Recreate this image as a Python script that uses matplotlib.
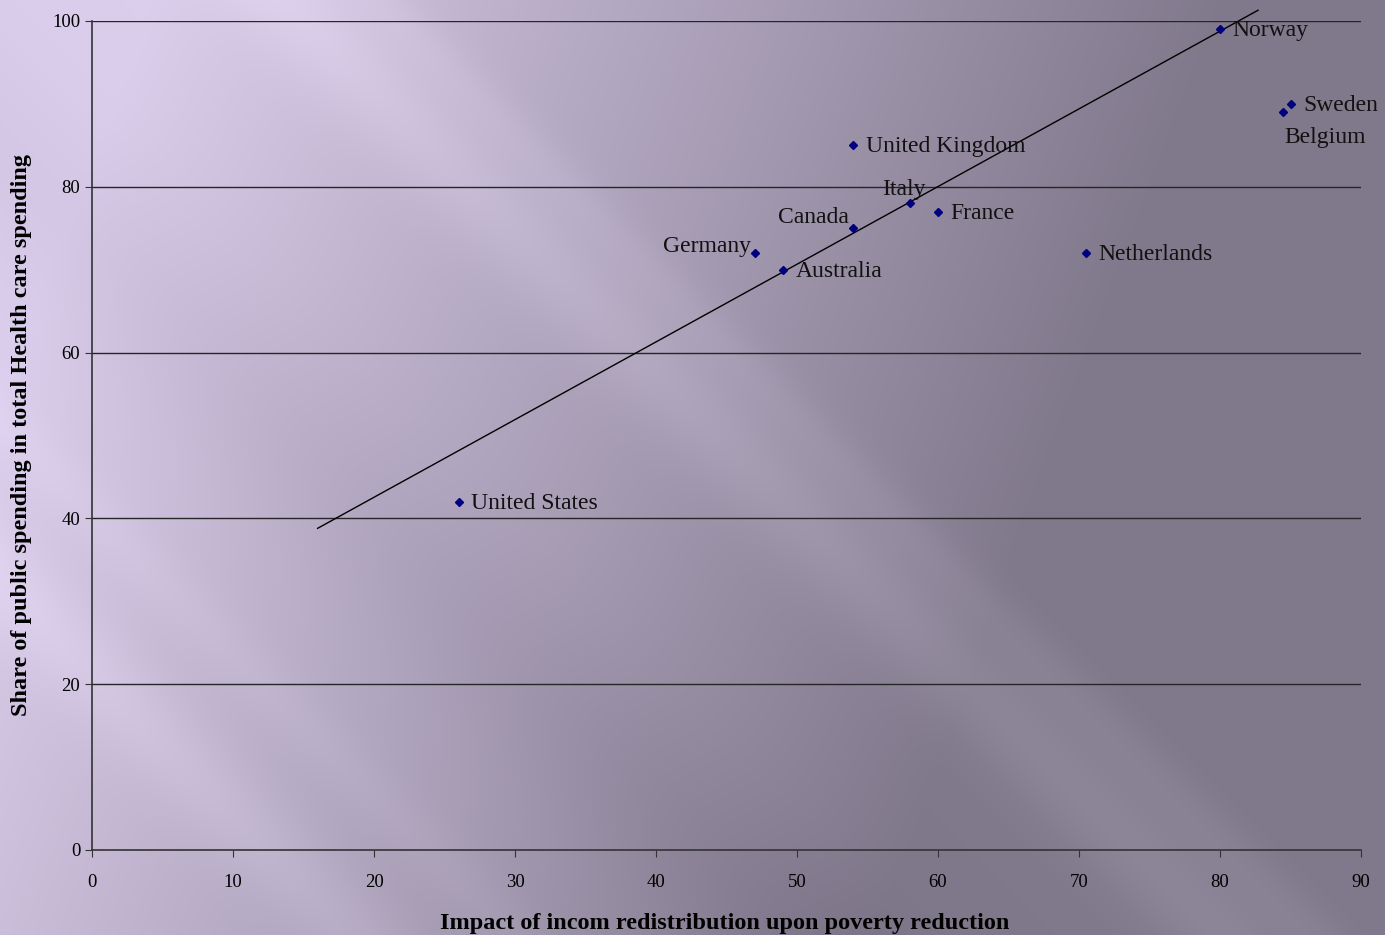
"""
Public health spending vs. redistribution impact, scatter with hand-drawn trend line.
"""
import numpy as np
import matplotlib
matplotlib.use("Agg")
import matplotlib.pyplot as plt

# data
countries = ["United States", "Germany", "Australia", "Canada", "United Kingdom",
             "Italy", "France", "Netherlands", "Norway", "Sweden", "Belgium"]
redistribution = [26, 47, 49, 54, 54, 58, 60, 70.5, 80, 85, 84.5]
public_share = [42, 72, 70, 75, 85, 78, 77, 72, 99, 90, 89]

# trend line as drawn on the slide (two end points)
trend_x = [16, 82.7]
trend_y = [38.8, 101.3]

x_ticks = [0, 10, 20, 30, 40, 50, 60, 70, 80, 90]
y_ticks = [0, 20, 40, 60, 80, 100]

# label placement (offset in points, horizontal alignment)
label_style = {
    "United States": ((9, -1), "left"),
    "Germany": ((-3, 5), "right"),
    "Australia": ((9, -1), "left"),
    "Canada": ((-3, 8), "right"),
    "United Kingdom": ((9, -1), "left"),
    "Italy": ((-4, 10), "center"),
    "France": ((9, -1), "left"),
    "Netherlands": ((9, -1), "left"),
    "Norway": ((9, -1), "left"),
    "Sweden": ((9, -1), "left"),
    "Belgium": ((30, -18), "center"),
}

W, H = 1385, 935
fig = plt.figure(figsize=(W / 100, H / 100), dpi=100)

# slide background: lavender to grey-purple with diagonal light streaks
yy, xx = np.mgrid[0:H, 0:W].astype(float)
t = np.clip((xx + 0.38 * yy - 150) / 1080, 0, 1)
light = np.array([219, 206, 236]) / 255
dark = np.array([128, 120, 139]) / 255
img = light[None, None, :] * (1 - t[..., None]) + dark[None, None, :] * t[..., None]
d = xx - yy
streak = (0.05 * np.exp(-((d - 290) / 70) ** 2)
          + 0.025 * np.exp(-((d - 380) / 35) ** 2)
          + 0.04 * np.exp(-((d + 580) / 60) ** 2)
          + 0.02 * np.exp(-((d + 420) / 40) ** 2)
          - 0.025 * np.exp(-((d + 150) / 120) ** 2))
img = np.clip(img + streak[..., None], 0, 1)
bg = fig.add_axes([0, 0, 1, 1])
bg.imshow(img, aspect="auto", extent=[0, 1, 0, 1], origin="upper")
bg.axis("off")

ax = fig.add_axes([92 / W, 1 - 850 / H, (1361 - 92) / W, (850 - 21) / H])
ax.patch.set_alpha(0)
ax.set_xlim(0, 90)
ax.set_ylim(0, 100)
ax.set_xticks(x_ticks)
ax.set_yticks(y_ticks)
ax.spines["top"].set_visible(False)
ax.spines["right"].set_visible(False)
for s in ("left", "bottom"):
    ax.spines[s].set_color("#333333")
    ax.spines[s].set_linewidth(1.2)
for yv in y_ticks[1:]:
    ax.axhline(yv, color="#262626", lw=1.0, zorder=1)

serif = ["Liberation Serif", "DejaVu Serif"]
ax.tick_params(direction="out", length=5, color="#333333", labelsize=13.5)
ax.tick_params(axis="x", pad=12)
for lab in ax.get_xticklabels() + ax.get_yticklabels():
    lab.set_family(serif)

ax.plot(trend_x, trend_y, color="black", lw=1.0, clip_on=False, zorder=2)
ax.plot(redistribution, public_share, linestyle="none", marker="D", ms=4.5,
        color="#000080", zorder=3)

for name, xv, yv in zip(countries, redistribution, public_share):
    off, ha = label_style[name]
    ax.annotate(name, (xv, yv), xytext=off, textcoords="offset points",
                ha=ha, va="center", fontsize=17, family=serif, color="#111111",
                annotation_clip=False)

ax.set_xlabel("Impact of incom redistribution upon poverty reduction",
              fontsize=17.5, fontweight="bold", family=serif)
ax.xaxis.set_label_coords((725 - 92) / 1269, (850 - 923) / 829)
ax.set_ylabel("Share of public spending in total Health care spending",
              fontsize=17.5, fontweight="bold", family=serif)
ax.yaxis.set_label_coords((22 - 92) / 1269, (850 - 435) / 829)
ax.xaxis.label.set_va("center")
ax.yaxis.label.set_va("center")

fig.savefig("out.png", dpi=100)
